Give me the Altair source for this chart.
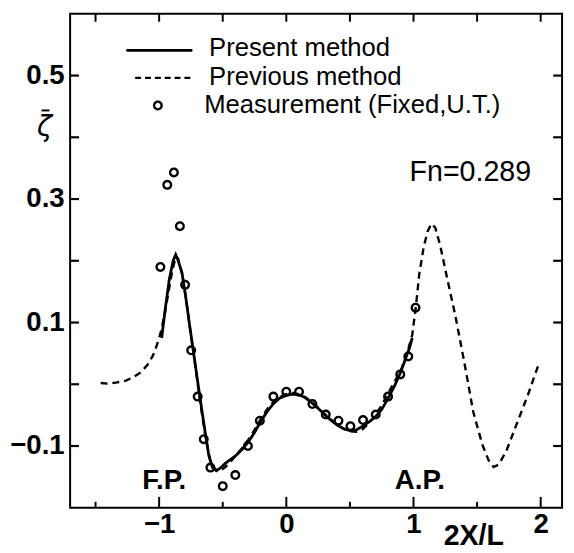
import altair as alt
import pandas as pd

# ---- data ----
prev_x = [-1.46, -1.40, -1.33, -1.26, -1.20, -1.14, -1.09, -1.05, -1.02, -0.99, -0.96, -0.93,
          -0.90, -0.88, -0.865, -0.85, -0.82, -0.79, -0.76, -0.72, -0.68, -0.64, -0.60, -0.56,
          -0.52, -0.48, -0.44, -0.40, -0.35, -0.30, -0.25, -0.20, -0.15, -0.10, -0.05, 0.00,
          0.05, 0.10, 0.15, 0.20, 0.25, 0.30, 0.35, 0.40, 0.45, 0.50, 0.55, 0.60, 0.65, 0.70,
          0.75, 0.80, 0.85, 0.90, 0.95, 0.99, 1.02, 1.045, 1.08, 1.11, 1.14, 1.17, 1.21, 1.26,
          1.33, 1.40, 1.47, 1.54, 1.59, 1.63, 1.67, 1.73, 1.81, 1.90, 1.98]
prev_y = [0.002, 0.001, 0.003, 0.006, 0.012, 0.020, 0.032, 0.046, 0.062, 0.082, 0.110, 0.145,
          0.180, 0.198, 0.207, 0.203, 0.180, 0.140, 0.095, 0.036, -0.025, -0.080, -0.122, -0.138,
          -0.140, -0.134, -0.126, -0.116, -0.104, -0.090, -0.074, -0.056, -0.040, -0.028, -0.020, -0.016,
          -0.014, -0.016, -0.021, -0.029, -0.038, -0.048, -0.057, -0.065, -0.072, -0.076, -0.077, -0.073, -0.063, -0.050,
          -0.034, -0.015, 0.004, 0.022, 0.050, 0.080, 0.128, 0.178, 0.222, 0.247, 0.260, 0.254, 0.225, 0.176,
          0.110, 0.035, -0.045, -0.097, -0.123, -0.134, -0.130, -0.108, -0.065, -0.017, 0.030]

pres_x = [-0.98, -0.95, -0.92, -0.89, -0.87, -0.85, -0.82, -0.79, -0.76, -0.72, -0.68, -0.64,
          -0.61, -0.58, -0.55, -0.52, -0.48, -0.44, -0.40, -0.35, -0.30, -0.25, -0.20, -0.15,
          -0.10, -0.05, 0.00, 0.05, 0.10, 0.15, 0.20, 0.25, 0.30, 0.35, 0.40, 0.45, 0.50, 0.55,
          0.60, 0.65, 0.70, 0.75, 0.80, 0.85, 0.90, 0.94, 0.97, 0.99]
pres_y = [0.075, 0.125, 0.170, 0.200, 0.210, 0.200, 0.180, 0.140, 0.095, 0.038, -0.020, -0.075,
          -0.115, -0.135, -0.140, -0.136, -0.128, -0.122, -0.116, -0.106, -0.094, -0.078, -0.060, -0.044,
          -0.031, -0.022, -0.018, -0.016, -0.017, -0.022, -0.030, -0.039, -0.049, -0.058, -0.066, -0.072, -0.075, -0.074,
          -0.068, -0.061, -0.053, -0.041, -0.023, -0.003, 0.020, 0.043, 0.060, 0.075]

meas_x = [-0.99, -0.936, -0.884, -0.837, -0.796, -0.748, -0.697, -0.649, -0.597, -0.50, -0.401,
          -0.302, -0.208, -0.102, 0.0, 0.1, 0.205, 0.31, 0.41, 0.504, 0.603, 0.703, 0.80, 0.896,
          0.959, 1.016]
meas_y = [0.190, 0.323, 0.343, 0.256, 0.161, 0.055, -0.020, -0.089, -0.135, -0.165, -0.147,
          -0.100, -0.059, -0.020, -0.012, -0.012, -0.032, -0.049, -0.059, -0.068, -0.058, -0.049, -0.020, 0.016,
          0.045, 0.124]

y_tick_vals = [-0.1, 0.0, 0.1, 0.2, 0.3, 0.4, 0.5]
y_label_vals = [-0.1, 0.1, 0.3, 0.5]
x_major = [-1, 0, 1, 2]
x_minor = [-1.5, -0.5, 0.5, 1.5]

legend_labels = ["Present method", "Previous method", "Measurement (Fixed,U.T.)"]
annotations = pd.DataFrame({"x": [-0.96, 1.05], "y": [-0.157, -0.157], "t": ["F.P.", "A.P."]})
fn_text = pd.DataFrame({"x": [0.969], "y": [0.344], "t": ["Fn=0.289"]})

FONT = "Liberation Sans"
W, H = 499, 501

xscale = alt.Scale(domain=[-1.7, 2.168], nice=False, zero=False)
yscale = alt.Scale(domain=[-0.2, 0.6], nice=False, zero=False)

x_axis = alt.Axis(values=x_major, format="d", title="2X/L", titleX=409, titleY=37,
                  titleBaseline="alphabetic", titleAlign="center", titleFontSize=29,
                  titleFont=FONT, titleFontWeight="bold", titleColor="black",
                  labelFontSize=28, labelFontWeight="bold", labelPadding=3)
y_axis = alt.Axis(values=y_label_vals, format=".1f", title=None, labelFontSize=28,
                  labelFontWeight="bold", labelPadding=6)

X = alt.X("x:Q", scale=xscale, axis=x_axis)
Y = alt.Y("y:Q", scale=yscale, axis=y_axis)

prev_df = pd.DataFrame({"x": prev_x, "y": prev_y})
pres_df = pd.DataFrame({"x": pres_x, "y": pres_y})
meas_df = pd.DataFrame({"x": meas_x, "y": meas_y})

prev = alt.Chart(prev_df).mark_line(color="black", strokeWidth=2.4, strokeDash=[7, 5]).encode(x=X, y=Y)
pres = alt.Chart(pres_df).mark_line(color="black", strokeWidth=2.8).encode(x=X, y=Y)
meas = alt.Chart(meas_df).mark_point(shape="circle", filled=False, color="black", size=60,
                                     strokeWidth=2.4, opacity=1).encode(x=X, y=Y)

ytick_df = pd.DataFrame({"y": y_tick_vals})
left_ticks = alt.Chart(ytick_df).mark_rule(color="black", strokeWidth=2.2).encode(
    y=Y, x=alt.value(0), x2=alt.value(9))
right_ticks = alt.Chart(ytick_df).mark_rule(color="black", strokeWidth=2.2).encode(
    y=Y, x=alt.value(W - 9), x2=alt.value(W))

xall_df = pd.DataFrame({"x": x_major + x_minor})
top_ticks = alt.Chart(xall_df).mark_rule(color="black", strokeWidth=2).encode(
    x=X, y=alt.value(0), y2=alt.value(8))
bot_major = alt.Chart(pd.DataFrame({"x": x_major})).mark_rule(color="black", strokeWidth=2).encode(
    x=X, y=alt.value(H), y2=alt.value(H - 11))
bot_minor = alt.Chart(pd.DataFrame({"x": x_minor})).mark_rule(color="black", strokeWidth=2).encode(
    x=X, y=alt.value(H), y2=alt.value(H - 6))

ann = alt.Chart(annotations).mark_text(font=FONT, fontSize=28, fontWeight="bold", color="black",
                                       align="center", baseline="middle").encode(x=X, y=Y, text="t:N")
fn = alt.Chart(fn_text).mark_text(font=FONT, fontSize=29, color="black", align="left",
                                  baseline="middle").encode(x=X, y=Y, text="t:N")

one = pd.DataFrame({"a": [0]})
ytitle = alt.Chart(pd.DataFrame({"t": ["ζ"]})).mark_text(
    font="DejaVu Sans", fontSize=28, fontStyle="italic", color="black", align="center",
    baseline="middle"
).encode(text="t:N", x=alt.value(-26), y=alt.value(116))
ytitle_bar = alt.Chart(one).mark_rule(color="black", strokeWidth=2).encode(
    x=alt.value(-29), x2=alt.value(-21), y=alt.value(98))

leg_solid = alt.Chart(one).mark_rule(color="black", strokeWidth=2.8).encode(
    x=alt.value(57), x2=alt.value(124), y=alt.value(37))
leg_dash = alt.Chart(one).mark_rule(color="black", strokeWidth=2.4, strokeDash=[6, 4]).encode(
    x=alt.value(66), x2=alt.value(124), y=alt.value(65))
leg_circ = alt.Chart(one).mark_point(shape="circle", filled=False, color="black", size=60,
                                     strokeWidth=2.4, opacity=1).encode(
    x=alt.value(89), y=alt.value(93))


def leg_text(label, px, py):
    return alt.Chart(pd.DataFrame({"t": [label]})).mark_text(
        font=FONT, fontSize=26, color="black", align="left", baseline="middle"
    ).encode(text="t:N", x=alt.value(px), y=alt.value(py))


leg1 = leg_text(legend_labels[0], 141, 35)
leg2 = leg_text(legend_labels[1], 141, 64)
leg3 = leg_text(legend_labels[2], 136, 93)

chart = alt.layer(
    prev, pres, meas, left_ticks, right_ticks, top_ticks, bot_major, bot_minor,
    ann, fn, ytitle, ytitle_bar, leg_solid, leg_dash, leg_circ, leg1, leg2, leg3
).properties(
    width=W, height=H,
    autosize=alt.AutoSizeParams(type="none"),
    padding={"left": 63, "top": 2, "right": 4, "bottom": 42},
    background="white",
).configure_view(
    stroke="black", strokeWidth=2
).configure_axis(
    domain=False, grid=False, ticks=False, labelFont=FONT, labelColor="black",
)

chart.save("out.html", embed_options={"renderer": "svg", "actions": False})
